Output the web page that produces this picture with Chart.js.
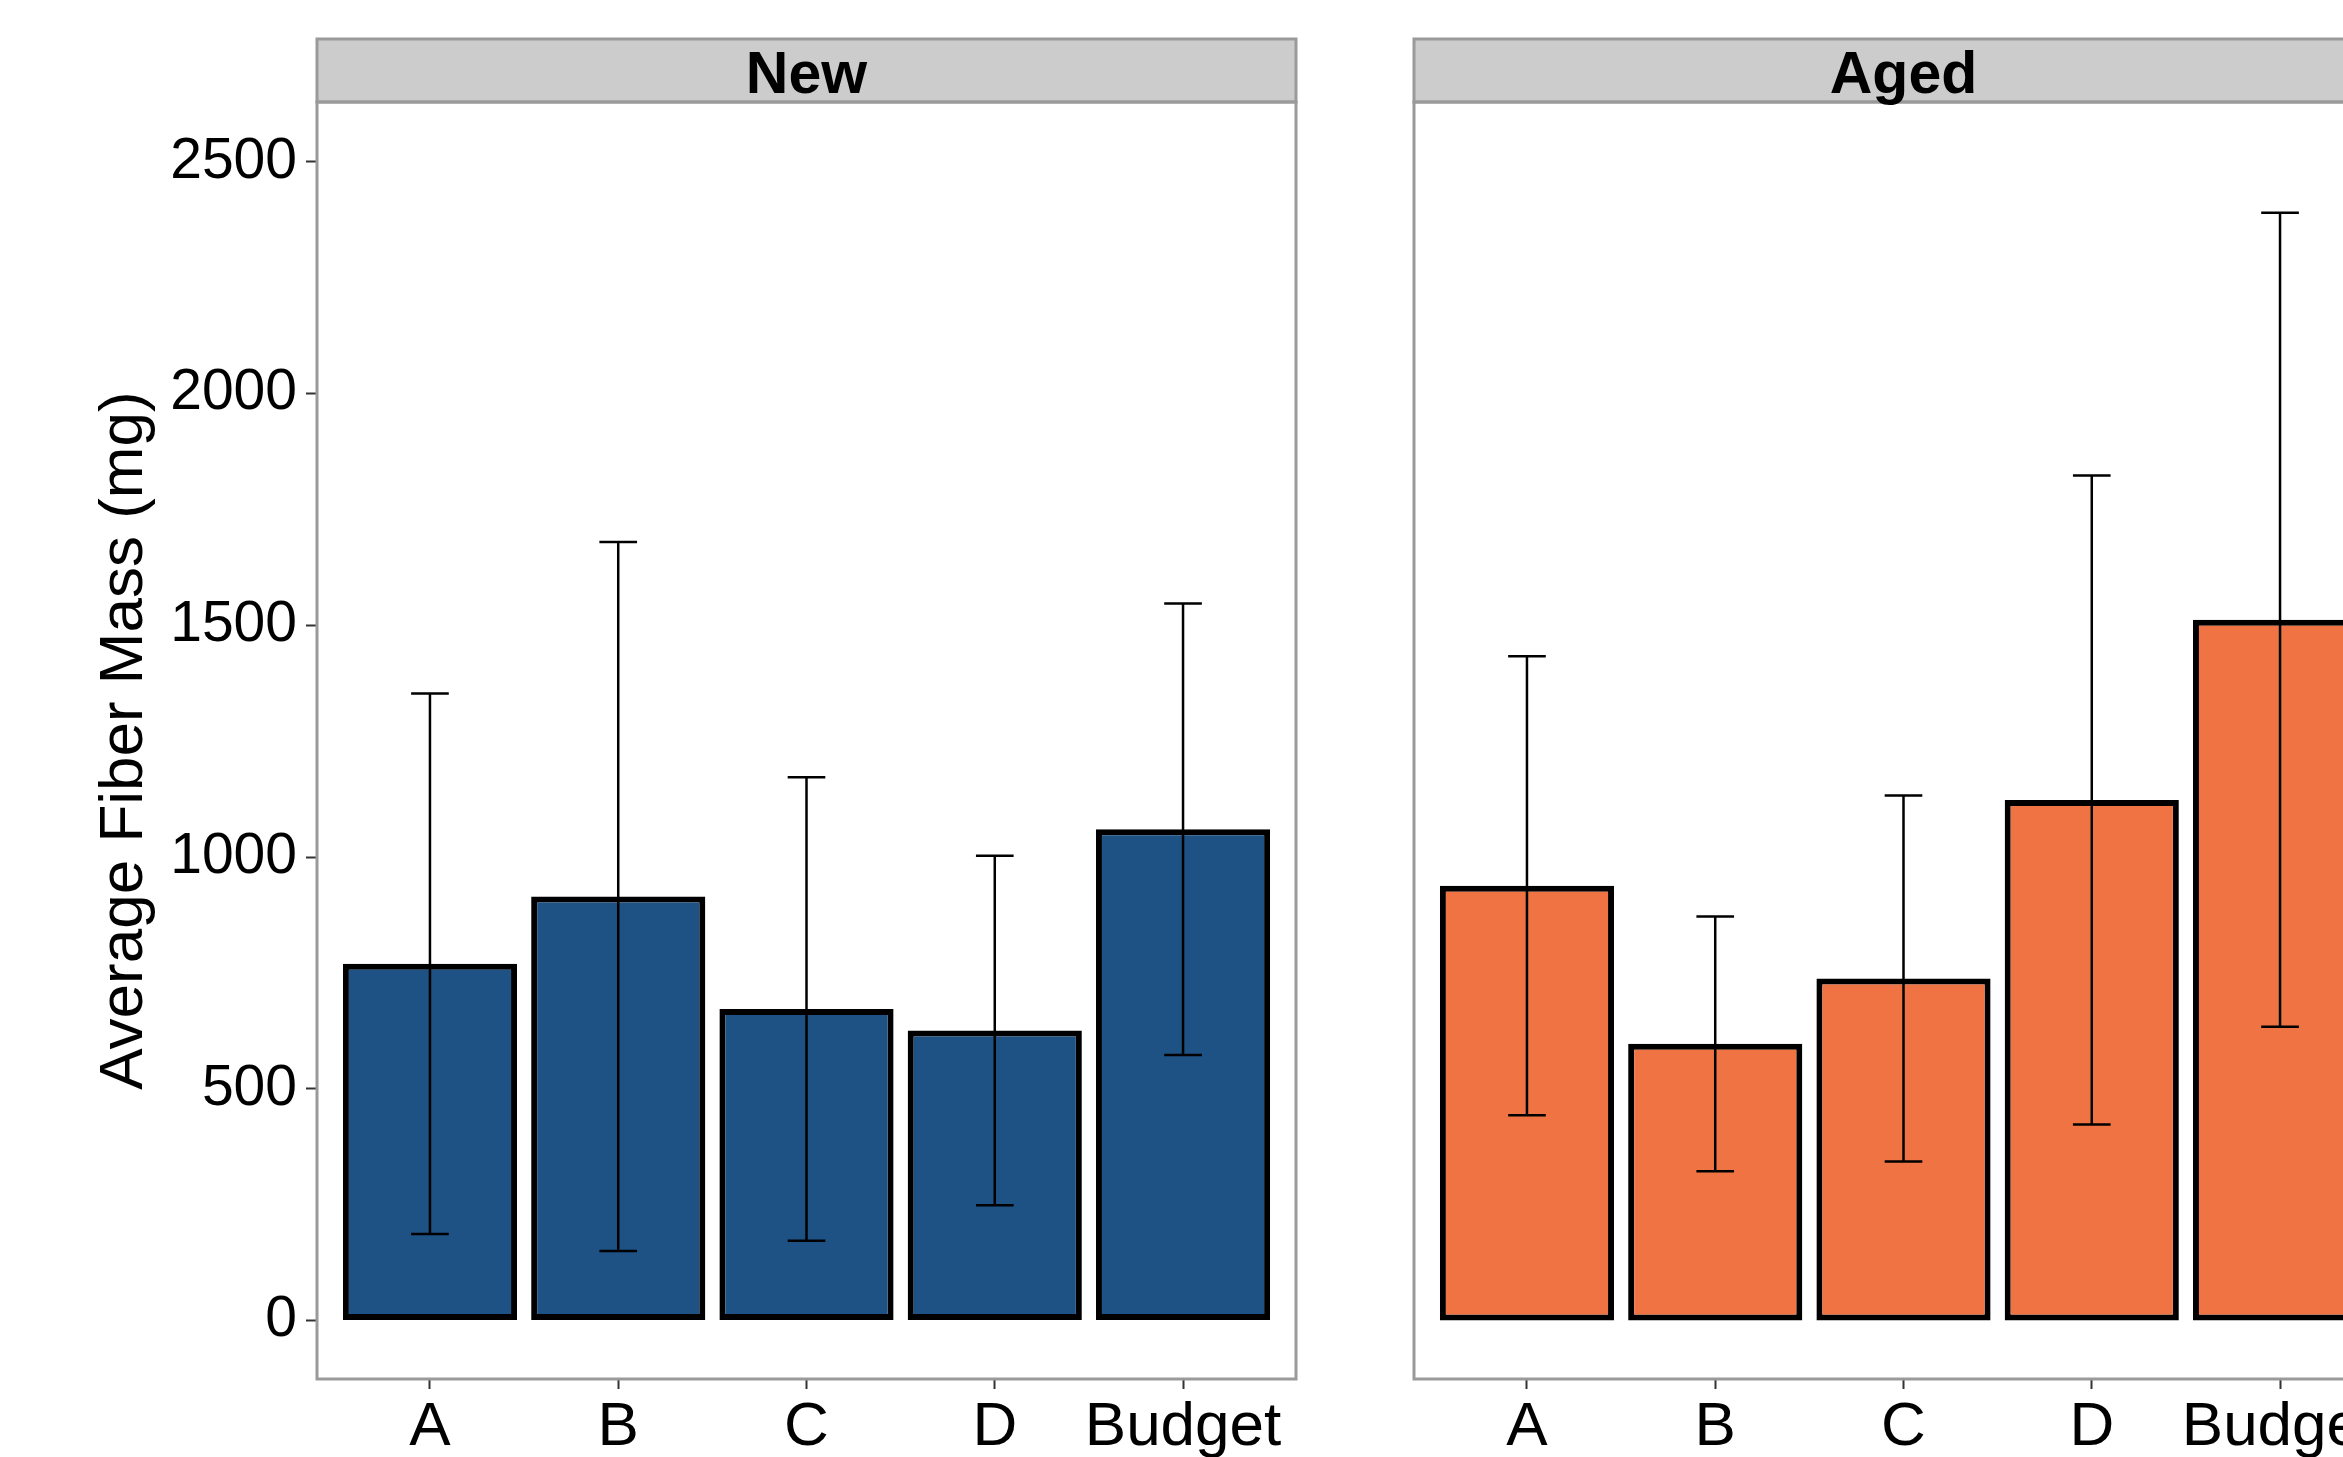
<!DOCTYPE html>
<html>
<head>
<meta charset="utf-8">
<script src="https://cdn.jsdelivr.net/npm/chart.js@4.4.1/dist/chart.umd.min.js"></script>
<style>
  html, body { margin: 0; padding: 0; background: #fff; overflow: hidden; width: 2343px; height: 1457px; }
  canvas { position: absolute; top: 0; }
  #newChart { left: 0px; }
  #agedChart { left: 1404px; }
</style>
</head>
<body>
<canvas id="newChart" width="1306" height="1457"></canvas>
<canvas id="agedChart" width="999" height="1457"></canvas>
<script>
// data
const categories = ['A', 'B', 'C', 'D', 'Budget']
const panels = ['New', 'Aged']
const newMeans = [770, 915, 672, 626, 1060]
const newErr = [583, 765, 500, 377, 487]
const agedMeans = [938, 597, 738, 1123, 1512]
const agedErr = [495, 275, 395, 700, 878]
const yTicks = [0, 500, 1000, 1500, 2000, 2500]
const yTitle = 'Average Fiber Mass (mg)'

const FONT = "'Liberation Sans', Arial, sans-serif"

// ggplot-ish facet: strip on top, grey panel border, error bars
const facetPlugin = {
    id: 'facet',
    afterDatasetsDraw(chart, args, opts) {
        const ctx = chart.ctx, x = chart.scales.x, y = chart.scales.y
        const means = chart.data.datasets[0].data
        ctx.save()
        ctx.strokeStyle = '#000'
        ctx.lineWidth = 2.5
        means.forEach((pt, i) => {
            const cx = x.getPixelForValue(pt.x)
            const half = (x.getPixelForValue(pt.x + 0.1) - x.getPixelForValue(pt.x - 0.1)) / 2
            const lo = y.getPixelForValue(pt.y - opts.errs[i])
            const hi = y.getPixelForValue(pt.y + opts.errs[i])
            ctx.beginPath()
            ctx.moveTo(cx, lo); ctx.lineTo(cx, hi)
            ctx.moveTo(cx - half, lo); ctx.lineTo(cx + half, lo)
            ctx.moveTo(cx - half, hi); ctx.lineTo(cx + half, hi)
            ctx.stroke()
        })
        ctx.restore()
    },
    afterDraw(chart, args, opts) {
        const ctx = chart.ctx, a = chart.chartArea
        const stripTop = 39
        ctx.save()
        ctx.fillStyle = '#cccccc'
        ctx.fillRect(a.left, stripTop, a.right - a.left, a.top - stripTop)
        ctx.strokeStyle = '#9a9a9a'
        ctx.lineWidth = 3
        ctx.strokeRect(a.left, stripTop, a.right - a.left, a.top - stripTop)
        ctx.strokeRect(a.left, a.top, a.right - a.left, a.bottom - a.top)
        ctx.fillStyle = '#000'
        ctx.font = 'bold 59px ' + FONT
        ctx.textAlign = 'center'
        ctx.textBaseline = 'alphabetic'
        ctx.fillText(opts.label, (a.left + a.right) / 2, 93)
        ctx.restore()
    }
}

function makeChart(id, label, means, errs, color, showY){
    const config = {
        type: 'bar',
        data: {
            datasets: [{
                data: means.map((v, i) => ({x: i, y: v})),
                backgroundColor: color,
                borderColor: '#000',
                borderWidth: 6,
                borderSkipped: false,
                categoryPercentage: 1,
                barPercentage: 0.925,
            }]
        },
        options: {
            responsive: false,
            animation: false,
            devicePixelRatio: 1,
            layout: {padding: {left: showY ? 0 : 10, right: 10, top: 102, bottom: 0}},
            plugins: {
                legend: {display: false},
                tooltip: {enabled: false},
                facet: {label: label, errs: errs}
            },
            scales: {
                x: {
                    type: 'linear',
                    offset: false,
                    min: -0.6,
                    max: 4.6,
                    afterBuildTicks: s => { s.ticks = categories.map((c, i) => ({value: i})) },
                    afterFit: s => { s.height = 78 },
                    border: {display: false},
                    grid: {offset: false, drawOnChartArea: false, drawTicks: true, tickLength: 10, tickWidth: 2, tickColor: '#333'},
                    ticks: {
                        autoSkip: false, maxRotation: 0, minRotation: 0,
                        padding: 2, color: '#000',
                        font: {family: FONT, size: 62},
                        callback: v => categories[v]
                    }
                },
                y: {
                    type: 'linear',
                    display: showY,
                    min: -126,
                    max: 2629,
                    afterBuildTicks: s => { s.ticks = yTicks.map(v => ({value: v})) },
                    afterFit: s => { s.width = showY ? 317 : 0 },
                    border: {display: false},
                    grid: {drawOnChartArea: false, drawTicks: true, tickLength: 11, tickWidth: 2, tickColor: '#333'},
                    ticks: {
                        padding: 9, color: '#000',
                        font: {family: FONT, size: 57},
                        callback: v => String(v)
                    },
                    title: {
                        display: true, text: yTitle, color: '#000',
                        font: {family: FONT, size: 62},
                        padding: {top: 88, bottom: 0}
                    }
                }
            }
        },
        plugins: [facetPlugin]
    }
    return new Chart(document.getElementById(id).getContext('2d'), config)
}

makeChart('newChart', panels[0], newMeans, newErr, '#1e5285', true)
makeChart('agedChart', panels[1], agedMeans, agedErr, '#f07443', false)
</script>
</body>
</html>
